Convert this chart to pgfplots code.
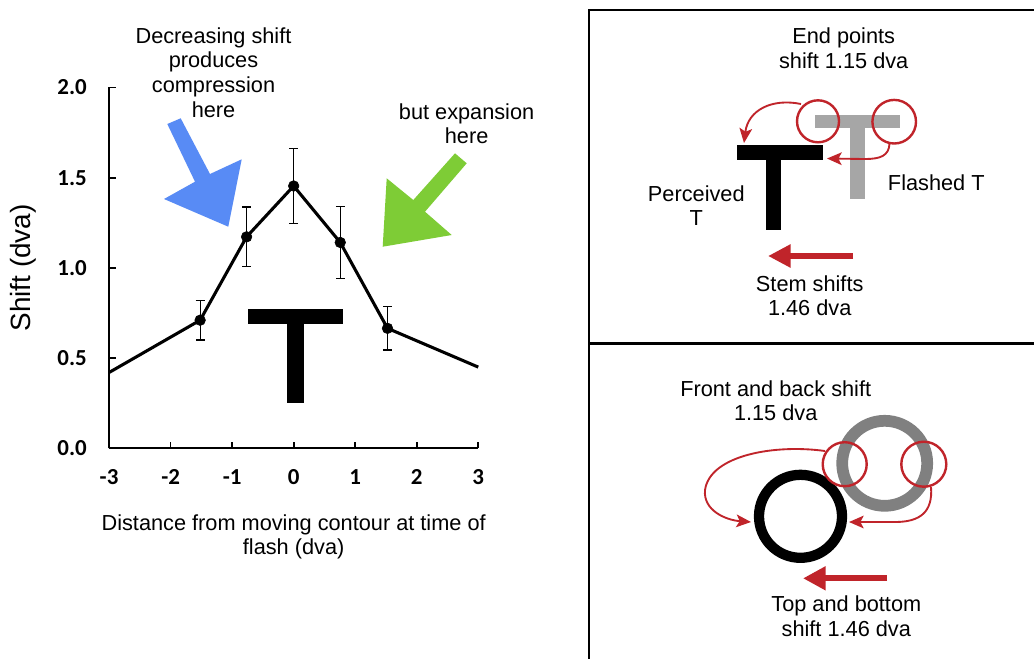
\documentclass[border=0pt]{standalone}
\usepackage{fontspec}
\setmainfont{Liberation Sans}
\newfontfamily\carlito{Carlito}
\usepackage{pgfplots}
\pgfplotsset{compat=1.18}
\usepackage{pgfplotstable}
\usetikzlibrary{arrows.meta}
\definecolor{arrowblue}{RGB}{88,139,245}
\definecolor{arrowgreen}{RGB}{126,204,54}
\definecolor{darkred}{RGB}{192,36,42}
\definecolor{lightT}{RGB}{166,166,166}
\definecolor{ringgray}{RGB}{128,128,128}
\newcommand\annfont{\fontsize{16.3}{19}\selectfont}

\pgfplotstableread{
x y
-3 0.42
-1.52 0.71
-0.765 1.172
0 1.454
0.757 1.141
1.525 0.665
3 0.45
}\linedata

\pgfplotstableread{
x y e
-1.52 0.71 0.11
-0.765 1.172 0.166
0 1.454 0.206
0.757 1.141 0.199
1.525 0.665 0.12
}\pointdata

\begin{document}
\begin{tikzpicture}
\path[use as bounding box] (0,0) rectangle (775.5pt,-493.5pt);
\fill[white] (0,0) rectangle (775.5pt,-493.5pt);
\begin{axis}[
  at={(81.8pt,-336.2pt)}, anchor=south west,
  width=276.9pt, height=270.6pt, scale only axis,
  xmin=-3, xmax=3, ymin=0, ymax=2,
  clip=false,
  axis x line=bottom, axis y line=left,
  axis line style={-, line width=1.3pt, black},
  tick align=inside, major tick length=5pt,
  tick style={line width=1.3pt, black},
  xtick={-3,-2,-1,0,1,2,3},
  xticklabels={-3,-2,-1,0,1,2,3},
  ytick={0,0.5,1,1.5,2},
  yticklabels={0.0,0.5,1.0,1.5,2.0},
  ticklabel style={font=\carlito\bfseries\fontsize{17.2}{20}\selectfont, inner sep=0pt},
  xticklabel style={anchor=base, yshift=-27.5pt},
  yticklabel style={anchor=east, xshift=-16.5pt},
  xlabel={Distance from moving contour at time of\\flash (dva)},
  xlabel style={at={(axis description cs:0.5,0)}, anchor=north, yshift=-50pt,
    align=center, inner sep=0pt, font=\fontsize{16.3}{17.5}\selectfont},
  ylabel={Shift (dva)},
  ylabel style={at={(axis description cs:0,0.5)}, anchor=center, yshift=64pt,
    inner sep=0pt, font=\fontsize{20.9}{24}\selectfont},
]
\addplot[black, line width=2.3pt, no marks] table[x=x,y=y] {\linedata};
\addplot[black, only marks, mark=*, mark size=4pt,
  error bars/.cd, y dir=both, y explicit,
  error bar style={line width=0.9pt, black},
  error mark options={rotate=90, line width=0.9pt, mark size=3.3pt, black}]
  table[x=x,y=y,y error=e] {\pointdata};
\end{axis}

\begin{scope}[x=0.75pt,y=-0.75pt]
% left T
\fill[black] (248.3,309.3) rectangle (343.3,324);
\fill[black] (286.7,323.5) rectangle (304,402.5);
% blue arrow
\fill[arrowblue] (167.3,124) -- (195,181.7) -- (164,199) -- (228.3,226.7) -- (241.7,159.3) -- (210,174) -- (180.7,118.3) -- cycle;
% green arrow
\fill[arrowgreen] (455,153.3) -- (413.3,200) -- (386.7,178.3) -- (382.7,246.7) -- (451.7,235) -- (425,211.7) -- (466.7,163.3) -- cycle;
% left annotations
\node[anchor=base, inner sep=0pt, font=\annfont] at (213.5,43.6) {Decreasing shift};
\node[anchor=base, inner sep=0pt, font=\annfont] at (213.5,67.9) {produces};
\node[anchor=base, inner sep=0pt, font=\annfont] at (213.5,92.1) {compression};
\node[anchor=base, inner sep=0pt, font=\annfont] at (213.5,117) {here};
\node[anchor=base, inner sep=0pt, font=\annfont] at (466.6,119.8) {but expansion};
\node[anchor=base, inner sep=0pt, font=\annfont] at (466.6,143.8) {here};

% right frame
\draw[line width=2pt, black] (589,660) -- (589,10) -- (1036,10);
\draw[line width=2pt, black] (589,343.3) -- (1036,343.3);

% ---- top panel
\node[anchor=base, inner sep=0pt, font=\annfont] at (843.7,43.3) {End points};
\node[anchor=base, inner sep=0pt, font=\annfont] at (843.7,68.3) {shift 1.15 dva};
\fill[lightT] (814.7,115) rectangle (899.7,128.3);
\fill[lightT] (849.7,128) rectangle (864.7,199.3);
\fill[black] (737.3,145) rectangle (823,160);
\fill[black] (765.7,159.5) rectangle (780.7,230);
\draw[darkred, line width=1.8pt] (818,121.3) circle (21);
\draw[darkred, line width=1.8pt] (894.2,121.7) circle (21.8);
\draw[darkred, line width=1.4pt, -{Stealth[length=11pt,width=9.5pt,inset=2.5pt]}]
  (801,104) .. controls (772,98) and (748,110) .. (744,143);
\draw[darkred, line width=1.4pt, -{Stealth[length=11pt,width=9.5pt,inset=2.5pt]}]
  (889.5,143.5) .. controls (889,156) and (880,159) .. (865,159) -- (827,158.5);
\node[anchor=base, inner sep=0pt, font=\annfont] at (696.3,201) {Perceived};
\node[anchor=base, inner sep=0pt, font=\annfont] at (696.3,225) {T};
\node[anchor=base, inner sep=0pt, font=\annfont] at (936.3,190) {Flashed T};
\draw[darkred, line width=4.5pt, -{Triangle[length=17pt,width=16.5pt]}] (853,256) -- (768,256);
\node[anchor=base, inner sep=0pt, font=\annfont] at (809.7,291.7) {Stem shifts};
\node[anchor=base, inner sep=0pt, font=\annfont] at (809.7,315) {1.46 dva};

% ---- bottom panel
\node[anchor=base, inner sep=0pt, font=\annfont] at (775.7,396.7) {Front and back shift};
\node[anchor=base, inner sep=0pt, font=\annfont] at (775.7,420.7) {1.15 dva};
\draw[ringgray, line width=8.8pt] (884.7,463.3) circle (42.5);
\draw[black, line width=7.7pt] (800.5,516.3) circle (41.5);
\draw[darkred, line width=1.8pt] (844.7,464.2) circle (22);
\draw[darkred, line width=1.8pt] (923.8,464.2) circle (22.5);
\draw[darkred, line width=1.4pt, -{Stealth[length=11pt,width=9.5pt,inset=2.5pt]}]
  (825,451) .. controls (775,444) and (710,455) .. (705,490)
  .. controls (703,510) and (725,520) .. (751,522);
\draw[darkred, line width=1.4pt, -{Stealth[length=11pt,width=9.5pt,inset=2.5pt]}]
  (931,487) .. controls (933,512) and (920,522) .. (895,522) -- (849,522);
\draw[darkred, line width=4.5pt, -{Triangle[length=17pt,width=17pt]}] (887,578.3) -- (803,578.3);
\node[anchor=base, inner sep=0pt, font=\annfont] at (846.3,611.7) {Top and bottom};
\node[anchor=base, inner sep=0pt, font=\annfont] at (846.3,636) {shift 1.46 dva};
\end{scope}
\end{tikzpicture}
\end{document}
